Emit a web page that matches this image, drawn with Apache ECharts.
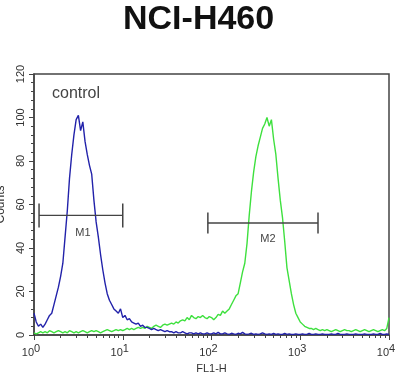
<!DOCTYPE html>
<html>
<head>
<meta charset="utf-8">
<script src="https://cdn.jsdelivr.net/npm/echarts@6/dist/echarts.min.js"></script>
<style>html,body{margin:0;padding:0;background:#fff}#c{width:400px;height:372px}</style>
</head>
<body>
<div id="c"></div>
<script>
// ---- data ----
const titleText = 'NCI-H460';
const xName = 'FL1-H';
const yName = 'Counts';
const controlLabel = 'control';
const decadeExps = [0, 1, 2, 3, 4];
const yTicks = [0, 20, 40, 60, 80, 100, 120];
const logStep = 0.025; // decades per channel bin
const blueCounts = [
  10, 6, 4, 5, 3.5, 5, 7, 9, 10, 14,
  18, 22, 27, 33, 45, 57, 72, 83, 92, 99,
  101, 94, 98, 89, 83, 78, 74, 62, 52, 45,
  37, 30, 24, 19, 16, 14, 12, 11, 10, 12,
  8, 9, 7, 7.5, 6, 5.5, 5, 5.5, 4, 4.5,
  3.5, 3.5, 3, 2.5, 3, 2.5, 2, 2.5, 2, 1.5,
  2, 1.5, 1.5, 1, 1.5, 1, 1, 1.5, 1, 0.5,
  1, 1, 0.5, 1, 0.5, 1, 0.5, 0.5, 1, 0.5,
  0.5, 1, 0.5, 1.2, 0.5, 0.5, 1, 0.5, 0.3, 0.8,
  0.5, 0.3, 0.8, 0.5, 1.2, 0.5, 0.3, 0.5, 0.8, 0.3,
  0.5, 0.3, 0.5, 1, 0.5, 0.3, 0.5, 0.3, 0.8, 0.3,
  0.5, 0.3, 0.3, 0.8, 0.3, 0.5, 0.3, 0.3, 0.5, 0.3,
  0.3, 0.5, 0.3, 0.3, 0.8, 0.3, 0.3, 0.5, 0.3, 0.3,
  0.5, 0.3, 0.3, 0.3, 0.5, 0.3, 0.3, 0.8, 0.3, 0.3,
  0.3, 0.5, 0.3, 0.3, 0.3, 0.5, 0.3, 0.3, 0.3, 0.5,
  0.3, 0.3, 0.3, 0.5, 0.3, 0.3, 0.8, 0.3, 0.3, 0.5,
  0.3
];
const greenCounts = [
  1, 0.5, 1, 1.5, 1, 1.5, 1, 2, 1.5, 1,
  1.5, 2, 1.5, 1, 1.5, 1, 2, 1.5, 1, 1.5,
  1, 1.5, 2, 1.5, 1, 1.5, 2, 1.5, 2, 1.5,
  1, 1.5, 2, 2.5, 2, 1.5, 2, 2.5, 2, 2.5,
  2, 2.5, 3, 2.5, 3, 2.5, 3, 3.5, 3, 3.5,
  3, 4, 3.5, 3, 4, 4.5, 4, 3.5, 4.5, 5,
  4.5, 5, 5.5, 5, 6, 5.5, 6.5, 7, 6.5, 8,
  7, 9, 8, 7.5, 8.5, 8, 9, 8, 7.5, 8.5,
  8, 7, 8, 9.5, 9, 11, 10, 11, 12, 14,
  16, 18, 19, 24, 29, 33, 42, 55, 66, 75,
  82, 87, 91, 95, 97, 100, 96, 99, 90, 83,
  72, 62, 54, 43, 31, 25, 19, 14, 10, 8,
  6, 5, 4, 3.5, 3, 3, 2.5, 3, 2.5, 2,
  2.5, 2, 2.5, 2, 1.5, 2, 2.5, 2, 1.5, 2,
  2.5, 2, 2, 1.5, 2, 2.5, 2, 1.5, 2, 2.5,
  2, 1.5, 2, 2.5, 2, 1.5, 2, 2.5, 2, 3,
  8
];
const gateNames = ['M1', 'M2'];
const gateLow = [1.14, 91];
const gateHigh = [10, 1585];
const gateLevel = [55, 51.5];

// ---- build ----
const toXY = arr => arr.map((c, i) => [Math.pow(10, i * logStep), c]);
const majorX = decadeExps.map(e => Math.pow(10, e));
const minorX = [];
for (let e = 0; e < 4; e++) for (let k = 2; k <= 9; k++) minorX.push(k * Math.pow(10, e));
const expOf = v => Math.round(Math.log10(v));

const axisCol = '#444';
const textCol = '#333';
const gateTickH = [24, 21];
const gateLabelOff = [[2, 18], [5, 16]];

const gateSeries = gateNames.map((n, g) => ({
  type: 'line',
  xAxisIndex: 0,
  data: [[gateLow[g], gateLevel[g]], [gateHigh[g], gateLevel[g]]],
  symbol: 'rect',
  symbolSize: [1.5, gateTickH[g]],
  showAllSymbol: true,
  lineStyle: { color: axisCol, width: 1.3 },
  itemStyle: { color: axisCol },
  silent: true,
  z: 5,
  markPoint: {
    symbol: 'circle', symbolSize: 0,
    data: [{ coord: [Math.sqrt(gateLow[g] * gateHigh[g]), gateLevel[g]], value: n }],
    label: { show: true, formatter: n, color: '#444', fontSize: 11, fontFamily: 'Liberation Sans', offset: gateLabelOff[g] }
  }
}));

const chart = echarts.init(document.getElementById('c'), null, { renderer: 'canvas' });
chart.setOption({
  animation: false,
  backgroundColor: '#fff',
  title: {
    text: titleText, left: 118, top: -2,
    textStyle: { fontSize: 34, fontWeight: 'bold', color: '#111', fontFamily: 'Liberation Sans' }
  },
  grid: { left: 34, right: 11, top: 74, bottom: 37, show: true, borderColor: axisCol, borderWidth: 1.5,
    backgroundColor: 'transparent', containLabel: false, outerBoundsMode: 'none' },
  xAxis: [{
    type: 'log', logBase: 10, min: 1, max: 10000, position: 'bottom',
    name: xName, nameLocation: 'middle', nameGap: 27,
    nameTextStyle: { fontSize: 11, color: textCol, fontFamily: 'Liberation Sans' },
    axisLine: { show: true, lineStyle: { color: axisCol, width: 1.5 } },
    axisTick: { show: true, customValues: majorX, length: 5, lineStyle: { color: axisCol } },
    splitLine: { show: false },
    minorTick: { show: false },
    axisLabel: {
      customValues: majorX, margin: 8,
      formatter: v => '{b|10}{s|' + expOf(v) + '}',
      rich: {
        b: { fontSize: 11, color: textCol, fontFamily: 'Liberation Sans' },
        s: { fontSize: 11, color: textCol, fontFamily: 'Liberation Sans', padding: [0, 6, 9, 0] }
      }
    }
  }, {
    type: 'log', logBase: 10, min: 1, max: 10000, position: 'bottom',
    axisLine: { show: false },
    axisTick: { show: true, customValues: minorX, length: 3, lineStyle: { color: axisCol } },
    axisLabel: { show: false },
    splitLine: { show: false }
  }],
  yAxis: {
    type: 'value', min: 0, max: 120, interval: 20,
    name: yName, nameLocation: 'middle', nameGap: 27,
    nameTextStyle: { fontSize: 12, color: textCol, fontFamily: 'Liberation Sans' },
    axisLine: { show: true, lineStyle: { color: axisCol, width: 1.5 } },
    axisTick: { show: true, length: 5, lineStyle: { color: axisCol } },
    minorTick: { show: true, splitNumber: 5, length: 3, lineStyle: { color: axisCol } },
    splitLine: { show: false },
    axisLabel: { rotate: 90, margin: 8, fontSize: 11, color: textCol, fontFamily: 'Liberation Sans',
      customValues: yTicks }
  },
  graphic: [{
    type: 'text', left: 52, top: 86,
    style: { text: controlLabel, fontSize: 16, fill: '#444', fontFamily: 'Liberation Sans' }
  }],
  series: [{
    type: 'line', xAxisIndex: 0, data: toXY(greenCounts), showSymbol: false,
    lineStyle: { color: '#3ee03e', width: 1.4 }, itemStyle: { color: '#3ee03e' }, z: 2, silent: true
  }, {
    type: 'line', xAxisIndex: 0, data: toXY(blueCounts), showSymbol: false,
    lineStyle: { color: '#2222aa', width: 1.4 }, itemStyle: { color: '#2222aa' }, z: 3, silent: true
  }].concat(gateSeries)
});
</script>
</body>
</html>
